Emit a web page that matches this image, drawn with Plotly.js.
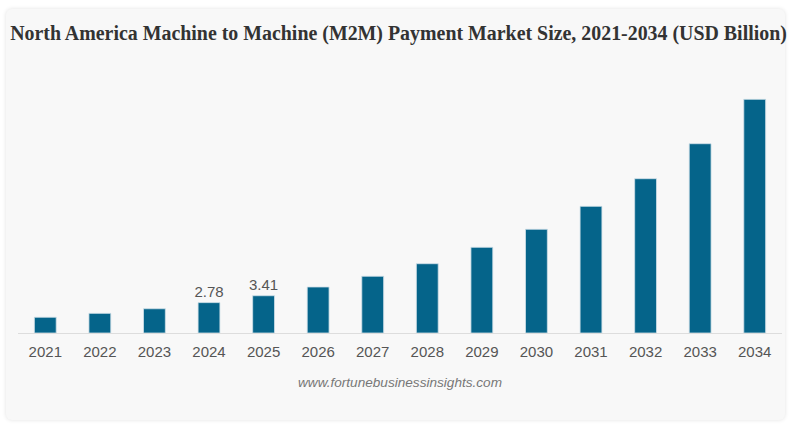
<!DOCTYPE html>
<html>
<head>
<meta charset="utf-8">
<script src="https://cdn.plot.ly/plotly-3.0.1.min.js"></script>
<style>
  html, body { margin: 0; padding: 0; background: #ffffff; }
  #card { position: absolute; left: 6px; top: 9px; width: 779px; height: 411px;
          background: #f8f8f8; border-radius: 6px; box-shadow: 0 0 4px rgba(0,0,0,0.12); }
  #chart { position: absolute; left: 0; top: 0; width: 797px; height: 427px; }
</style>
</head>
<body>
<div id="card"></div>
<div id="chart"></div>
<script>
const years = ['2021','2022','2023','2024','2025','2026','2027','2028','2029','2030','2031','2032','2033','2034'];
const values = [1.44, 1.80, 2.22, 2.78, 3.41, 4.21, 5.19, 6.34, 7.84, 9.49, 11.59, 14.12, 17.32, 21.38];
const labeledYears = ['2024', '2025'];

const labels = years.map((y, i) => labeledYears.includes(y) ? values[i].toFixed(2) : '');

const trace = {
  type: 'bar',
  x: years,
  y: values,
  text: labels,
  textposition: 'outside',
  constraintext: 'none',
  cliponaxis: false,
  textfont: { family: 'Liberation Sans, Arial, sans-serif', size: 15, color: '#555555' },
  marker: { color: '#05648a', line: { color: '#cfe0e8', width: 0.8 } },
  width: 0.4,
  hoverinfo: 'none'
};

const layout = {
  width: 797,
  height: 427,
  margin: { l: 18, r: 15, t: 80, b: 94 },
  paper_bgcolor: 'rgba(0,0,0,0)',
  plot_bgcolor: 'rgba(0,0,0,0)',
  showlegend: false,
  title: {
    text: 'North America Machine to Machine (M2M) Payment Market Size, 2021-2034 (USD Billion)',
    font: { family: 'Liberation Serif, Times New Roman, serif', size: 19.9, color: '#333333', weight: 'bold' },
    x: 0.5, xanchor: 'center', y: 0.922, yanchor: 'middle'
  },
  xaxis: {
    type: 'category',
    range: [-0.5, 13.5],
    showline: true, linecolor: '#dddddd', linewidth: 1,
    showgrid: false, zeroline: false, ticks: '',
    tickfont: { family: 'Liberation Sans, Arial, sans-serif', size: 15, color: '#555555' },
    ticklabelstandoff: 5
  },
  yaxis: {
    range: [0, 23.15],
    visible: false, showgrid: false, zeroline: false
  },
  annotations: [{
    text: '<i>www.fortunebusinessinsights.com</i>',
    xref: 'paper', yref: 'paper', x: 0.5, y: -0.197, xanchor: 'center', yanchor: 'middle',
    showarrow: false,
    font: { family: 'Liberation Sans, Arial, sans-serif', size: 13.6, color: '#777777' }
  }]
};

Plotly.newPlot('chart', [trace], layout, { displayModeBar: false, staticPlot: true });
</script>
</body>
</html>
